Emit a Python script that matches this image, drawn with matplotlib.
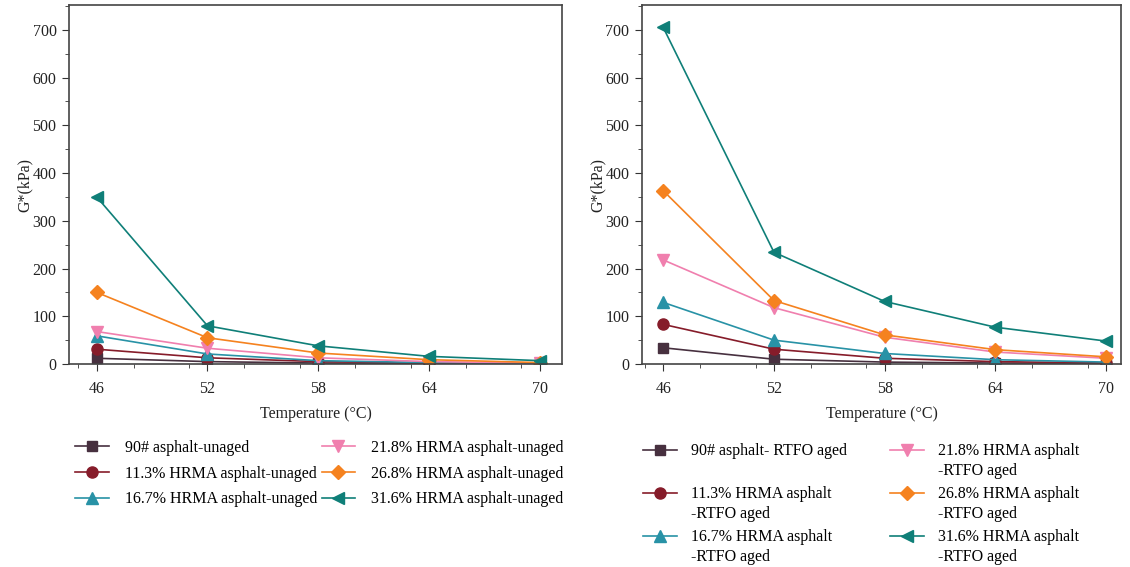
import matplotlib
matplotlib.use("Agg")
import matplotlib.pyplot as plt
import matplotlib.transforms as mtransforms
from matplotlib.legend_handler import HandlerLine2D
from matplotlib.ticker import MultipleLocator

plt.rcParams['font.family'] = ['Liberation Serif', 'DejaVu Serif']

# Test temperatures and complex shear modulus G* (kPa)
temps = [46, 52, 58, 64, 70]

unaged_90 = [12, 5, 2, 1, 0.5]
unaged_113 = [31, 13, 5, 2, 1]
unaged_167 = [59, 21, 7, 3, 1]
unaged_218 = [68, 33, 13, 5, 2]
unaged_268 = [150, 55, 23, 9, 3]
unaged_316 = [350, 80, 38, 16, 7]

rtfo_90 = [34, 10, 4, 2, 1]
rtfo_113 = [83, 31, 12, 5, 2]
rtfo_167 = [129, 50, 22, 9, 4]
rtfo_218 = [218, 118, 56, 25, 12]
rtfo_268 = [363, 133, 61, 30, 15]
rtfo_316 = [705, 234, 131, 77, 48]

unaged_labels = ['90# asphalt-unaged', '11.3% HRMA asphalt-unaged',
                 '16.7% HRMA asphalt-unaged', '21.8% HRMA asphalt-unaged',
                 '26.8% HRMA asphalt-unaged', '31.6% HRMA asphalt-unaged']
rtfo_labels = ['90# asphalt- RTFO aged\n ', '11.3% HRMA asphalt\n-RTFO aged',
               '16.7% HRMA asphalt\n-RTFO aged', '21.8% HRMA asphalt\n-RTFO aged',
               '26.8% HRMA asphalt\n-RTFO aged', '31.6% HRMA asphalt\n-RTFO aged']

colors = ['#47303f', '#861c2a', '#2892a6', '#f07fae', '#f5821f', '#0f7f78']
markers = ['s', 'o', '^', 'v', 'D', '<']
msizes = [7, 8, 8, 8, 7, 9]

FS = 11.5


class FirstLineHandler(HandlerLine2D):
    # put the legend marker next to the first line of a two-line label
    def create_artists(self, legend, orig_handle, xdescent, ydescent,
                       width, height, fontsize, trans):
        arts = super().create_artists(legend, orig_handle, xdescent, ydescent,
                                      width, height, fontsize, trans)
        shift = mtransforms.Affine2D().translate(0, fontsize * 0.7)
        for a in arts:
            a.set_transform(shift + trans)
        return arts


fig = plt.figure(figsize=(11.3, 5.67), dpi=100)
ax1 = fig.add_axes([69/1130, 1 - 364/567, 493/1130, 359/567])
ax2 = fig.add_axes([642/1130, 1 - 364/567, 479/1130, 359/567])

panels = [
    (ax1, [unaged_90, unaged_113, unaged_167, unaged_218, unaged_268, unaged_316], unaged_labels, (44.5, 71.2)),
    (ax2, [rtfo_90, rtfo_113, rtfo_167, rtfo_218, rtfo_268, rtfo_316], rtfo_labels, (44.85, 70.8)),
]

for ax, series, labels, xl in panels:
    for vals, lab, c, m, ms in zip(series, labels, colors, markers, msizes):
        ax.plot(temps, vals, color=c, marker=m, markersize=ms, linewidth=1.2,
                label=lab)
    ax.set_xlim(*xl)
    ax.set_ylim(0, 752)
    ax.set_xticks(temps)
    ax.xaxis.set_minor_locator(MultipleLocator(3))
    ax.yaxis.set_major_locator(MultipleLocator(100))
    ax.yaxis.set_minor_locator(MultipleLocator(50))
    ax.tick_params(which='both', direction='out', top=False, right=False,
                   labelsize=FS, colors='#333333', labelcolor='#222222')
    ax.tick_params(which='major', length=5)
    ax.tick_params(which='minor', length=3)
    ax.tick_params(axis='x', pad=7)
    ax.tick_params(axis='y', pad=4)
    for s in ax.spines.values():
        s.set_color('#444444')
        s.set_linewidth(1.2)
    ax.set_xlabel('Temperature (°C)', fontsize=FS, color='#222222', labelpad=7)
    ax.set_ylabel('G*(kPa)', fontsize=FS, color='#222222', labelpad=0)

ax1.legend(ncol=2, loc='upper left', bbox_to_anchor=(75/1130, 1 - 440/567),
           bbox_transform=fig.transFigure, frameon=False, fontsize=FS,
           borderpad=0, borderaxespad=0, handlelength=2.1, handletextpad=1.0,
           columnspacing=0.3, labelspacing=0.6)

h, l = ax2.get_legend_handles_labels()
leg2 = ax2.legend(h, l, ncol=2, loc='upper left', bbox_to_anchor=(643/1130, 1 - 443/567),
                  bbox_transform=fig.transFigure, frameon=False, fontsize=FS,
                  borderpad=0, borderaxespad=0, handlelength=2.1, handletextpad=0.9,
                  columnspacing=2.7, labelspacing=0.43,
                  handler_map={hh: FirstLineHandler() for hh in h})
for t in leg2.get_texts():
    t.set_linespacing(1.35)

fig.savefig('out.png', dpi=100)
